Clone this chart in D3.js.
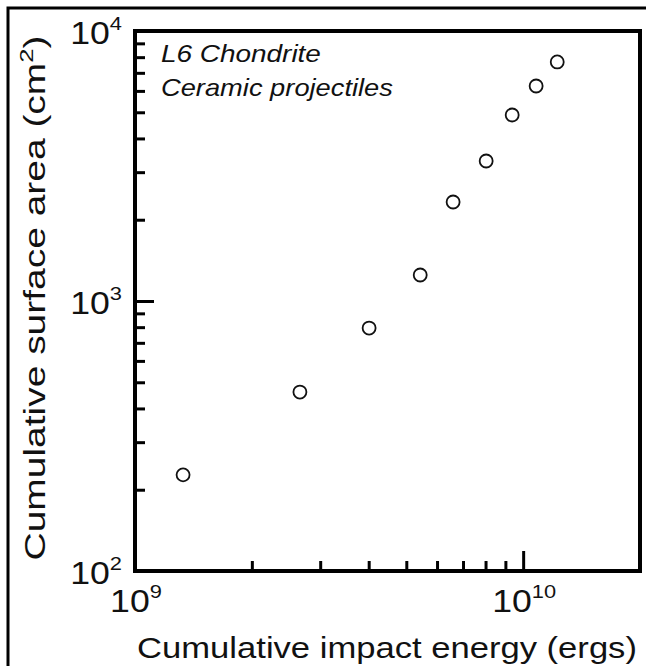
<!DOCTYPE html>
<html>
<head>
<meta charset="utf-8">
<script src="https://cdn.jsdelivr.net/npm/d3@7"></script>
<style>
    body { margin: 0; background: #fff; }
    text { font-family: "Liberation Sans", Arial, sans-serif; fill: #111; }
</style>
</head>
<body>
<div id="chart"></div>
<script>
    // data
    var energy = [1.33e9, 2.66e9, 4.01e9, 5.43e9, 6.60e9, 8.03e9, 9.37e9, 1.08e10, 1.224e10];
    var area = [227, 460, 794, 1248, 2326, 3300, 4886, 6255, 7680];
    var yMajor = [100, 1000, 10000];
    var yMajorExp = ["2", "3", "4"];
    var xMajor = [1e9, 1e10];
    var xMajorExp = ["9", "10"];
    var notes = ["L6 Chondrite", "Ceramic projectiles"];

    var W = 646, H = 666;
    var margin = { top: 31, right: 6, bottom: 95, left: 135 };
    var width = W - margin.left - margin.right;
    var height = H - margin.top - margin.bottom;

    var svg = d3.select("#chart").append("svg")
        .attr("width", W)
        .attr("height", H);

    // outer frame (only top and left show)
    svg.append("rect")
        .attr("x", 8).attr("y", 8)
        .attr("width", W + 10).attr("height", H + 10)
        .attr("fill", "none").attr("stroke", "#000").attr("stroke-width", 3);

    var g = svg.append("g")
        .attr("transform", "translate(" + margin.left + "," + margin.top + ")");

    var x = d3.scaleLog().domain([1e9, 2e10]).range([0, width]);
    var y = d3.scaleLog().domain([100, 10000]).range([height, 0]);

    var yMinor = [];
    [100, 1000].forEach(function (b) {
        for (var k = 2; k <= 9; k++) yMinor.push(b * k);
    });
    var xMinor = [];
    for (var k = 2; k <= 9; k++) xMinor.push(1e9 * k);

    function styleTicks(sel) {
        sel.select(".domain").remove();
        sel.selectAll(".tick line").attr("stroke", "#000").attr("stroke-width", 3);
        sel.selectAll(".tick text").remove();
    }

    // text in the figure is a bit wider than the font, so stretch it
    function stretch(t, tx, ty, rot, target) {
        var w = t.node().getBBox().width;
        var s = target ? target / w : 1.15;
        t.attr("transform", "translate(" + tx + "," + ty + ") rotate(" + rot + ") scale(" + s + ",1)");
    }

    g.append("g").call(d3.axisLeft(y).tickValues(yMinor).tickSize(-10)).call(styleTicks);
    g.append("g").call(d3.axisLeft(y).tickValues(yMajor).tickSize(-19)).call(styleTicks);
    g.append("g").attr("transform", "translate(0," + height + ")")
        .call(d3.axisBottom(x).tickValues(xMinor).tickSize(-10)).call(styleTicks);
    g.append("g").attr("transform", "translate(0," + height + ")")
        .call(d3.axisBottom(x).tickValues(xMajor).tickSize(-20)).call(styleTicks);

    // plot box
    g.append("rect")
        .attr("width", width).attr("height", height)
        .attr("fill", "none").attr("stroke", "#000").attr("stroke-width", 4);

    // tick labels with superscripts
    yMajor.forEach(function (v, i) {
        var t = g.append("text")
            .attr("text-anchor", "end")
            .style("font-size", "31px");
        t.append("tspan").text("10");
        t.append("tspan").attr("dy", -14).style("font-size", "19px").text(yMajorExp[i]);
        stretch(t, -13, y(v) + 13, 0);
    });
    xMajor.forEach(function (v, i) {
        var t = g.append("text")
            .attr("text-anchor", "middle")
            .style("font-size", "31px");
        t.append("tspan").text("10");
        t.append("tspan").attr("dy", -14).style("font-size", "19px").text(xMajorExp[i]);
        stretch(t, x(v) + 1, height + 41, 0);
    });

    // axis titles
    var xt = svg.append("text")
        .attr("text-anchor", "middle")
        .style("font-size", "30px")
        .text("Cumulative impact energy (ergs)");
    stretch(xt, 387, 658, 0, 500);

    var yt = svg.append("text")
        .attr("text-anchor", "middle")
        .style("font-size", "29px");
    yt.append("tspan").text("Cumulative surface area (cm");
    yt.append("tspan").attr("dy", -12).style("font-size", "19px").text("2");
    yt.append("tspan").attr("dy", 12).text(")");
    stretch(yt, 45, 298, -90, 525);

    // annotation
    var noteLen = [160, 232];
    notes.forEach(function (s, i) {
        var t = g.append("text")
            .style("font-size", "24px")
            .style("font-style", "italic")
            .text(s);
        stretch(t, 26, 31 + i * 34, 0, noteLen[i]);
    });

    // points
    g.append("g").selectAll("circle")
        .data(energy)
        .enter()
        .append("circle")
        .attr("cx", function (d) { return x(d); })
        .attr("cy", function (d, i) { return y(area[i]); })
        .attr("r", 6.5)
        .attr("fill", "#fff")
        .attr("stroke", "#111")
        .attr("stroke-width", 1.8);
</script>
</body>
</html>
